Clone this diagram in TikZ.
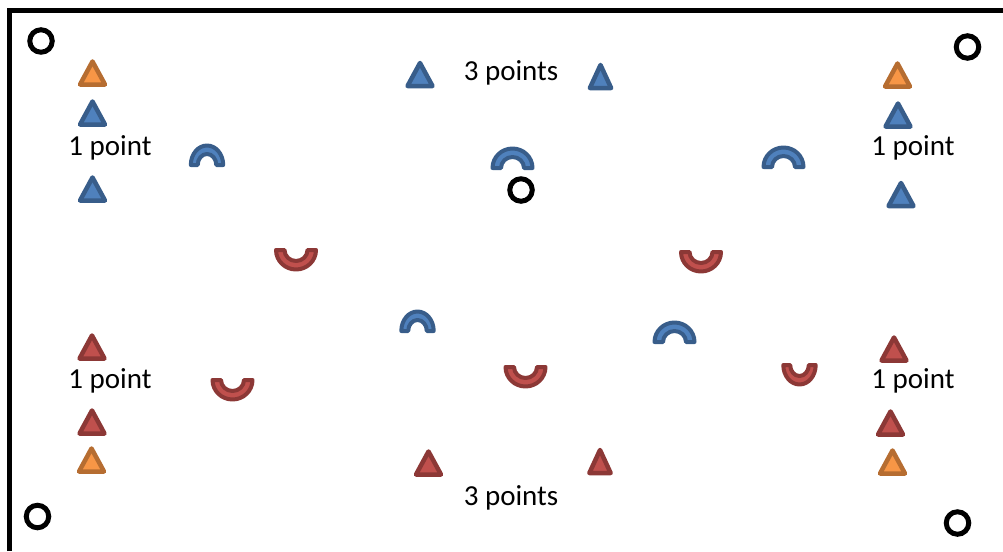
\documentclass[tikz,border=0pt]{standalone}
\usepackage{fontspec}
\setmainfont{Carlito}
\usepackage{xcolor}
\usepackage{tikz}
\usetikzlibrary{positioning}

\definecolor{bluefill}{HTML}{4F81BD}
\definecolor{bluedark}{HTML}{385D8A}
\definecolor{redfill}{HTML}{C0504D}
\definecolor{reddark}{HTML}{8C3836}
\definecolor{orangefill}{HTML}{F79646}
\definecolor{orangedark}{HTML}{B66D31}

\tikzset{
  cone/.pic={\path[line width=4.5, line join=round, pic actions] (0,-11.5) -- (12.5,11.5) -- (-12.5,11.5) -- cycle;},
  arch/.pic={\path[line width=4, line join=round, pic actions] (-20,0) arc[start angle=180, end angle=360, x radius=20, y radius=19.5] -- (11.5,0) arc[start angle=0, end angle=-180, x radius=11.5, y radius=11] -- cycle;},
  cup/.pic={\path[line width=4, line join=round, pic actions] (-20,0) arc[start angle=180, end angle=0, x radius=20, y radius=19.5] -- (11.5,0) arc[start angle=0, end angle=180, x radius=11.5, y radius=11] -- cycle;},
  bluemark/.style={draw=bluedark, fill=bluefill},
  redmark/.style={draw=reddark, fill=redfill},
  orangemark/.style={draw=orangedark, fill=orangefill},
  narrow/.style={xscale=0.81},
  ring/.style={circle, draw, line width=5, minimum size=22.5, inner sep=0pt},
  score/.style={anchor=base, inner sep=0pt, font=\fontsize{29}{34}\selectfont}
}

\begin{document}
\begin{tikzpicture}[x=1pt, y=-1pt]
    \useasboundingbox (0,0) rectangle (1003,551);
    % field edge
    \draw[line width=5, line join=miter] (9.5,551) -- (9.5,10.5) -- (1003,10.5);

    % corner and centre rings
    \node[ring] (ringtl) at (41,41) {};
    \node[ring] (ringtr) at (967.5,47) {};
    \node[ring] (ringbl) at (37.5,516.5) {};
    \node[ring] (ringbr) at (957.5,523) {};
    \node[ring] (ringc) at (521,190) {};

    % orange cones
    \pic[orangemark] at (92.5,73) {cone};
    \pic[orangemark] at (897.5,75) {cone};
    \pic[orangemark] at (91.5,460) {cone};
    \pic[orangemark] at (892.5,462) {cone};

    % blue cones
    \pic[bluemark] at (92.5,113) {cone};
    \pic[bluemark] at (92.5,189) {cone};
    \pic[bluemark] at (420,74.5) {cone};
    \pic[bluemark, xscale=0.85] at (600.5,76.5) {cone};
    \pic[bluemark] at (898,115) {cone};
    \pic[bluemark] at (901,194.5) {cone};

    % red cones
    \pic[redmark] at (92,347) {cone};
    \pic[redmark] at (92,422) {cone};
    \pic[redmark] at (894,349) {cone};
    \pic[redmark] at (890.5,423) {cone};
    \pic[redmark] at (428.5,463) {cone};
    \pic[redmark, xscale=0.85] at (600,461.5) {cone};

    % blue arches
    \pic[bluemark, narrow] at (207,165) {arch};
    \pic[bluemark] at (512.5,168) {arch};
    \pic[bluemark] at (783.5,167) {arch};
    \pic[bluemark, narrow] at (417.5,331) {arch};
    \pic[bluemark] at (674.5,342) {arch};

    % red cups
    \pic[redmark] at (296,250) {cup};
    \pic[redmark] at (701,252) {cup};
    \pic[redmark] at (232.5,380) {cup};
    \pic[redmark] at (525.5,367) {cup};
    \pic[redmark, narrow] at (799.5,365) {cup};

    % scores
    \node[score] (ptl) at (110,155) {1 point};
    \node[score] (ptr) at (913,155) {1 point};
    \node[score] (pbl) at (110,388) {1 point};
    \node[score] (pbr) at (913,388) {1 point};
    \node[score] (ptop) at (511,81) {3 points};
    \node[score] (pbot) at (511,505) {3 points};
\end{tikzpicture}
\end{document}
